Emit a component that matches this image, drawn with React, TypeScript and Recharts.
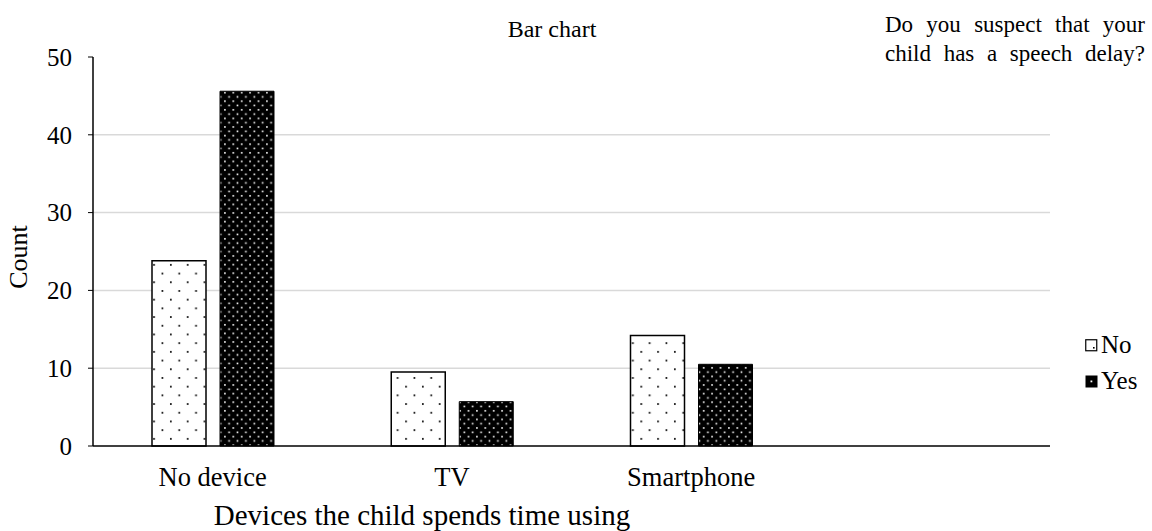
import * as React from "react"
import { Bar, BarChart, XAxis, YAxis, CartesianGrid } from "recharts"

const categories = ["No device", "TV", "Smartphone", ""]
const noCounts = [23.8, 9.5, 14.2, null]
const yesCounts = [45.6, 5.7, 10.5, null]
const yTicks = [0, 10, 20, 30, 40, 50]
const gridLines = [10, 20, 30, 40]

const data = categories.map((name, i) => ({
  name,
  No: noCounts[i],
  Yes: yesCounts[i],
}))

const FONT = "'Liberation Serif', 'Times New Roman', serif"

function LegendBox() {
  return (
    <div style={{ fontFamily: FONT, color: "#000", position: "absolute", left: 880, top: 0, width: 272, height: 400 }}>
      <div
        style={{
          position: "absolute",
          left: 5,
          top: 10,
          width: 260,
          fontSize: 23,
          lineHeight: "29px",
          textAlign: "justify",
          textAlignLast: "justify",
        }}
      >
        Do you suspect that your child has a speech delay?
      </div>
      <div style={{ position: "absolute", left: 205, top: 327, fontSize: 25, lineHeight: "36px" }}>
        <div style={{ display: "flex", alignItems: "center" }}>
          <svg width={13} height={13} style={{ marginRight: 3 }}>
            <rect x={0.75} y={0.75} width={11} height={11} fill="#fff" stroke="#000" strokeWidth={1.2} />
            <rect x={8} y={8} width={1.6} height={1.6} fill="#000" />
          </svg>
          No
        </div>
        <div style={{ display: "flex", alignItems: "center" }}>
          <svg width={13} height={13} style={{ marginRight: 3 }}>
            <rect x={0.5} y={0.5} width={12} height={12} fill="#000" />
            <rect x={5.5} y={5.5} width={1.8} height={1.8} fill="#fff" />
          </svg>
          Yes
        </div>
      </div>
    </div>
  )
}

export default function App() {
  return (
    <div style={{ position: "absolute", left: 0, top: 0, width: 1152, height: 531, background: "#fff" }}>
      <BarChart
        width={1152}
        height={531}
        data={data}
        margin={{ top: 57, right: 102, bottom: 0, left: 0 }}
        barSize={54}
        barGap={14}
        style={{ fontFamily: FONT }}
      >
        <defs>
          <pattern id="dotsNo" patternUnits="userSpaceOnUse" width={16.8} height={17.4}>
            <rect width={16.8} height={17.4} fill="#fff" />
            <rect x={2} y={3} width={1.7} height={1.7} fill="#000" />
            <rect x={10.4} y={11.7} width={1.7} height={1.7} fill="#000" />
          </pattern>
          <pattern id="dotsYes" patternUnits="userSpaceOnUse" width={8.4} height={8.6}>
            <rect width={8.4} height={8.6} fill="#000" />
            <rect x={1.5} y={1.5} width={1.6} height={1.6} fill="#fff" />
            <rect x={5.7} y={5.8} width={1.6} height={1.6} fill="#fff" />
          </pattern>
        </defs>
        <CartesianGrid
          vertical={false}
          stroke="#d9d9d9"
          strokeWidth={1.5}
          horizontalValues={gridLines}
        />
        <XAxis
          dataKey="name"
          height={85}
          axisLine={{ stroke: "#000", strokeWidth: 1.5 }}
          tickLine={false}
          tickSize={0}
          tickMargin={21}
          interval={0}
          tick={{ fill: "#000", fontSize: 26.5, fontFamily: FONT }}
          label={{
            content: () => (
              <text x={422} y={525} textAnchor="middle" fill="#000" fontSize={29} fontFamily={FONT}>
                Devices the child spends time using
              </text>
            ),
          }}
        />
        <YAxis
          width={93}
          domain={[0, 50]}
          ticks={yTicks}
          interval={0}
          axisLine={{ stroke: "#000", strokeWidth: 1.5 }}
          tickLine={{ stroke: "#000" }}
          tickSize={5}
          tickMargin={16}
          tick={{ fill: "#000", fontSize: 25, fontFamily: FONT }}
          label={{
            content: () => (
              <text
                x={27}
                y={257}
                transform="rotate(-90 27 257)"
                textAnchor="middle"
                fill="#000"
                fontSize={26}
                fontFamily={FONT}
              >
                Count
              </text>
            ),
          }}
        />
        <text x={552} y={37} textAnchor="middle" fill="#000" fontSize={24} fontFamily={FONT}>
          Bar chart
        </text>
        <Bar dataKey="No" fill="url(#dotsNo)" stroke="#000" strokeWidth={1.5} isAnimationActive={false} />
        <Bar dataKey="Yes" fill="url(#dotsYes)" stroke="#000" strokeWidth={1} isAnimationActive={false} />
      </BarChart>
      <LegendBox />
    </div>
  )
}
